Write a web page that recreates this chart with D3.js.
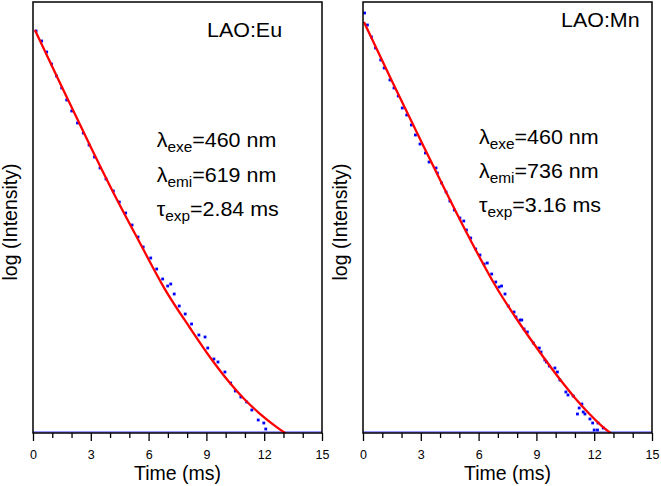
<!DOCTYPE html>
<html><head><meta charset="utf-8">
<script src="https://cdn.jsdelivr.net/npm/d3@7"></script>
<style>
body{margin:0;background:#fff}
svg{display:block}
text{font-family:"Liberation Sans",Arial,Helvetica,sans-serif;fill:#000}
</style>
</head><body>
<svg id="c" width="661" height="486"></svg>
<script>
// ---------- data ----------
const euTime = [0.16,0.45,0.71,0.96,1.22,1.49,1.75,2.01,2.31,2.61,2.91,3.19,3.48,3.79,4.17,4.48,4.81,5.14,5.45,5.72,6.11,6.42,6.73,6.99,7.15,7.33,7.59,7.90,8.23,8.61,8.93,9.07,9.39,9.60,9.96,10.26,10.50,10.79,11.09,11.36,11.69,11.98,12.08];
const euLog  = [4.02,3.92,3.81,3.69,3.57,3.45,3.33,3.22,3.10,3.00,2.88,2.76,2.65,2.54,2.42,2.31,2.20,2.08,1.96,1.86,1.75,1.64,1.54,1.47,1.49,1.39,1.27,1.19,1.09,0.98,0.96,0.85,0.74,0.71,0.61,0.50,0.42,0.36,0.31,0.23,0.13,0.10,0.04];
const euFitTime = [0.10,1.40,2.96,4.26,5.55,6.85,8.15,9.19,10.22,11.00,11.78,12.56,13.23,13.44];
const euFitLog  = [4.03,3.50,2.875,2.37,1.90,1.437,1.05,0.757,0.50,0.333,0.192,0.072,-0.018,-0.043];

const mnTime = [0.08,0.23,0.44,0.65,0.92,1.10,1.40,1.61,1.83,2.04,2.27,2.51,2.72,2.96,3.24,3.43,3.79,3.86,4.08,4.31,4.51,4.74,5.03,5.23,5.37,5.59,5.85,6.07,6.29,6.45,6.68,6.89,7.06,7.19,7.37,7.54,7.84,7.94,8.15,8.24,8.36,8.53,8.84,9.15,9.24,9.44,9.52,9.67,9.96,10.09,10.22,10.53,10.64,10.91,11.13,11.22,11.36,11.43,11.52,11.78,11.92,12.00,12.17,12.20,12.47];
const mnLog  = [4.20,4.08,3.96,3.85,3.73,3.65,3.53,3.45,3.37,3.25,3.18,3.08,2.98,2.89,2.80,2.71,2.65,2.60,2.50,2.41,2.32,2.23,2.15,2.12,2.03,1.95,1.84,1.78,1.69,1.70,1.59,1.51,1.46,1.47,1.39,1.27,1.21,1.16,1.13,1.13,1.04,1.01,0.90,0.85,0.81,0.73,0.71,0.67,0.65,0.61,0.53,0.41,0.38,0.37,0.19,0.25,0.29,0.21,0.19,0.14,0.10,0.03,0.03,0.10,0.05];
const mnFitTime = [0.05,1.50,2.96,4.26,5.55,6.85,8.15,9.19,10.22,11.00,11.78,12.40,12.97,13.23];
const mnFitLog  = [4.11,3.52,2.94,2.43,1.94,1.48,1.09,0.805,0.537,0.351,0.185,0.068,-0.016,-0.045];

const xMajorTicks = [0,3,6,9,12,15];
const xMinorTicks = [1,2,4,5,7,8,10,11,13,14];
const sampleNames = ["LAO:Eu","LAO:Mn"];
const exeValues   = ["460 nm","460 nm"];
const emiValues   = ["619 nm","736 nm"];
const tauValues   = ["2.84 ms","3.16 ms"];
const xTitle = "Time (ms)";
const yTitle = "log (Intensity)";

// ---------- layout ----------
const svg = d3.select("#c");
const plotTop = 2, plotBottom = 433;
const panels = [
  {x0:33,  time:euTime, log:euLog, fitT:euFitTime, fitV:euFitLog,
   name:[207,37], ann:[156.7,[147.3,181.7,215.7]]},
  {x0:363, time:mnTime, log:mnLog, fitT:mnFitTime, fitV:mnFitLog,
   name:[561,27.3], ann:[479,[144.3,177.7,212]]}
];
const W = 289;
const y = d3.scaleLinear().domain([0,4.31]).range([plotBottom, plotTop]);

panels.forEach((p,i)=>{
  const x = d3.scaleLinear().domain([0,15]).range([p.x0, p.x0+W]);
  const g = svg.append("g");
  const cid = "clip"+i;
  svg.append("clipPath").attr("id",cid).append("rect")
     .attr("x",p.x0).attr("y",plotTop).attr("width",W).attr("height",plotBottom-plotTop);
  const plot = g.append("g").attr("clip-path",`url(#${cid})`);

  // baseline (blue) along the bottom
  plot.append("line").attr("x1",x(0)).attr("x2",x(15))
      .attr("y1",y(0)-1).attr("y2",y(0)-1)
      .attr("stroke","#3030ff").attr("stroke-width",1);

  // data points
  plot.selectAll("rect.pt").data(p.time.map((t,k)=>[t,p.log[k]])).join("rect")
      .attr("class","pt")
      .attr("x",d=>x(d[0])-1.4).attr("y",d=>y(d[1])-1.4)
      .attr("width",2.8).attr("height",2.8).attr("fill","#0000ff");

  // fit curve
  const line = d3.line().x(d=>x(d[0])).y(d=>y(d[1])).curve(d3.curveMonotoneX);
  plot.append("path").datum(p.fitT.map((t,k)=>[t,p.fitV[k]]))
      .attr("d",line).attr("fill","none").attr("stroke","#ff0000").attr("stroke-width",2.3);

  // frame
  g.append("rect").attr("x",p.x0).attr("y",plotTop).attr("width",W).attr("height",plotBottom-plotTop)
   .attr("fill","none").attr("stroke","#000").attr("stroke-width",1.5);

  // axes
  const ax = g.append("g").attr("transform",`translate(0,${plotBottom})`)
    .call(d3.axisBottom(x).tickValues(xMajorTicks).tickSize(8).tickPadding(9.5));
  ax.select(".domain").remove();
  ax.selectAll(".tick line").attr("stroke","#000").attr("stroke-width",1.3);
  ax.selectAll(".tick text").attr("font-size",12.5).attr("font-family",null).style("font-family",'"Liberation Sans",Arial,sans-serif');
  const axm = g.append("g").attr("transform",`translate(0,${plotBottom})`)
    .call(d3.axisBottom(x).tickValues(xMinorTicks).tickSize(5).tickFormat(""));
  axm.select(".domain").remove();
  axm.selectAll(".tick line").attr("stroke","#000").attr("stroke-width",1.3);

  // titles
  g.append("text").attr("x",p.x0+W/2).attr("y",480).attr("text-anchor","middle")
   .attr("font-size",19.5).text(xTitle);
  g.append("text").attr("transform",`translate(${p.x0-16},222) rotate(-90)`)
   .attr("text-anchor","middle").attr("font-size",19.5).text(yTitle);

  // annotations
  g.append("text").attr("transform",`translate(${p.name[0]},${p.name[1]}) scale(1.1,1)`)
   .attr("font-size",19.5).text(sampleNames[i]);
  const rows = [["\u03bb","exe",exeValues[i]],["\u03bb","emi",emiValues[i]],["\u03c4","exp",tauValues[i]]];
  rows.forEach((r,k)=>{
    const t = g.append("text").attr("transform",`translate(${p.ann[0]},${p.ann[1][k]}) scale(1.1,1)`)
      .attr("font-size",19.5);
    t.append("tspan").text(r[0]);
    t.append("tspan").attr("font-size",14).attr("dy",5).text(r[1]);
    t.append("tspan").attr("dy",-5).text("="+r[2]);
  });
});
</script>
</body></html>
